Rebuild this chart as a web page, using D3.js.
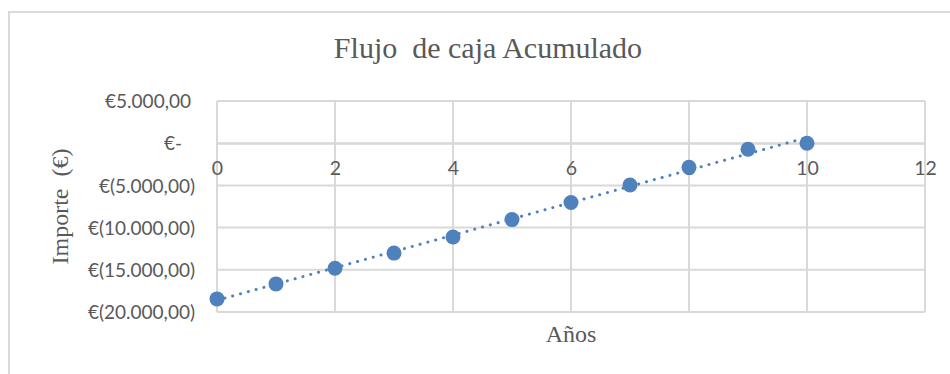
<!DOCTYPE html>
<html>
<head>
<meta charset="utf-8">
<script src="https://cdn.jsdelivr.net/npm/d3@7"></script>
<style>
  html, body { margin: 0; padding: 0; background: #fff; }
  svg { display: block; }
</style>
</head>
<body>
<svg id="chart" width="950" height="374"></svg>
<script>
// Años del proyecto y flujo de caja acumulado (€)
const years = [0, 1, 2, 3, 4, 5, 6, 7, 8, 9, 10];
const cumulativeCash = [-18450, -16670, -14810, -13020, -11120, -9050, -7020, -4960, -2860, -710, 0];

const xTicks = [0, 2, 4, 6, 8, 10, 12];
const yTicks = [5000, 0, -5000, -10000, -15000, -20000];
const yTickLabels = ["€5.000,00", "€-", "€(5.000,00)", "€(10.000,00)", "€(15.000,00)", "€(20.000,00)"];

const titleText = "Flujo  de caja Acumulado";
const yTitleText = "Importe  (€)";
const xTitleText = "Años";

const svg = d3.select("#chart");
const W = 950, H = 374;
const plot = { left: 217, right: 925, top: 101, bottom: 312 };

const gridColor = "#d9d9d9";
const textColor = "#595959";
const markColor = "#4f81bd";

// Chart area outline
svg.append("rect")
  .attr("x", 9).attr("y", 12)
  .attr("width", W + 20).attr("height", H + 20)
  .attr("fill", "#fff")
  .attr("stroke", gridColor).attr("stroke-width", 2);

const x = d3.scaleLinear().domain([0, 12]).range([plot.left, plot.right]);
const y = d3.scaleLinear().domain([-20000, 5000]).range([plot.bottom, plot.top]);

// Gridlines
const grid = svg.append("g");
grid.selectAll("line.h").data(yTicks).join("line")
  .attr("class", "h")
  .attr("x1", plot.left).attr("x2", plot.right)
  .attr("y1", d => y(d)).attr("y2", d => y(d))
  .attr("stroke", gridColor).attr("stroke-width", 2);
grid.selectAll("line.v").data(xTicks).join("line")
  .attr("class", "v")
  .attr("x1", d => x(d)).attr("x2", d => x(d))
  .attr("y1", plot.top).attr("y2", plot.bottom)
  .attr("stroke", gridColor).attr("stroke-width", 2);

// Horizontal value axis crosses at zero
const xAxis = d3.axisBottom(x).tickValues(xTicks).tickSize(0).tickPadding(0)
  .tickFormat(d3.format("d"));
const gx = svg.append("g").attr("transform", `translate(0,${y(0)})`).call(xAxis);
gx.select(".domain").attr("stroke", gridColor).attr("stroke-width", 2);
gx.selectAll("text")
  .attr("y", 32)
  .attr("dy", null)
  .attr("fill", textColor)
  .style("font-family", "Lato, 'Open Sans', sans-serif")
  .style("font-size", "19.5px");

// Vertical axis with accounting-style labels
const labelFor = d3.scaleOrdinal().domain(yTicks).range(yTickLabels);
const yAxis = d3.axisLeft(y).tickValues(yTicks).tickSize(0).tickPadding(0)
  .tickFormat(d => labelFor(d));
const gy = svg.append("g").attr("transform", `translate(195,0)`).call(yAxis);
gy.select(".domain").remove();
gy.selectAll("text")
  .attr("x", function (d) {
    const s = labelFor(d);
    if (s.endsWith(")")) return 0;
    if (s === "€-") return -13;
    return -4;
  })
  .attr("dy", "0.35em")
  .attr("fill", textColor)
  .style("font-family", "Lato, 'Open Sans', sans-serif")
  .style("font-size", "19px");

// Linear trendline (least squares)
const n = years.length;
const mx = d3.mean(years), my = d3.mean(cumulativeCash);
let sxy = 0, sxx = 0;
for (let i = 0; i < n; i++) {
  sxy += (years[i] - mx) * (cumulativeCash[i] - my);
  sxx += (years[i] - mx) ** 2;
}
const slope = sxy / sxx, intercept = my - slope * mx;
const xMin = d3.min(years), xMax = d3.max(years);
svg.append("line")
  .attr("x1", x(xMin)).attr("y1", y(intercept + slope * xMin))
  .attr("x2", x(xMax)).attr("y2", y(intercept + slope * xMax))
  .attr("stroke", markColor)
  .attr("stroke-width", 3)
  .attr("stroke-linecap", "round")
  .attr("stroke-dasharray", "0.1 8");

// Points
svg.append("g").selectAll("circle")
  .data(years.map((yr, i) => ({ yr, v: cumulativeCash[i] })))
  .join("circle")
  .attr("cx", d => x(d.yr)).attr("cy", d => y(d.v))
  .attr("r", 7.5)
  .attr("fill", markColor);

// Titles
svg.append("text")
  .attr("x", 488).attr("y", 58)
  .attr("text-anchor", "middle")
  .attr("fill", textColor)
  .style("font-family", "'Liberation Serif', 'Times New Roman', serif")
  .style("font-size", "30px")
  .style("white-space", "pre")
  .text(titleText);

svg.append("text")
  .attr("transform", `translate(68,${(plot.top + plot.bottom) / 2}) rotate(-90)`)
  .attr("text-anchor", "middle")
  .attr("fill", textColor)
  .style("font-family", "'Liberation Serif', 'Times New Roman', serif")
  .style("font-size", "24px")
  .style("white-space", "pre")
  .text(yTitleText);

svg.append("text")
  .attr("x", (plot.left + plot.right) / 2).attr("y", 342)
  .attr("text-anchor", "middle")
  .attr("fill", textColor)
  .style("font-family", "'Liberation Serif', 'Times New Roman', serif")
  .style("font-size", "24px")
  .text(xTitleText);
</script>
</body>
</html>
